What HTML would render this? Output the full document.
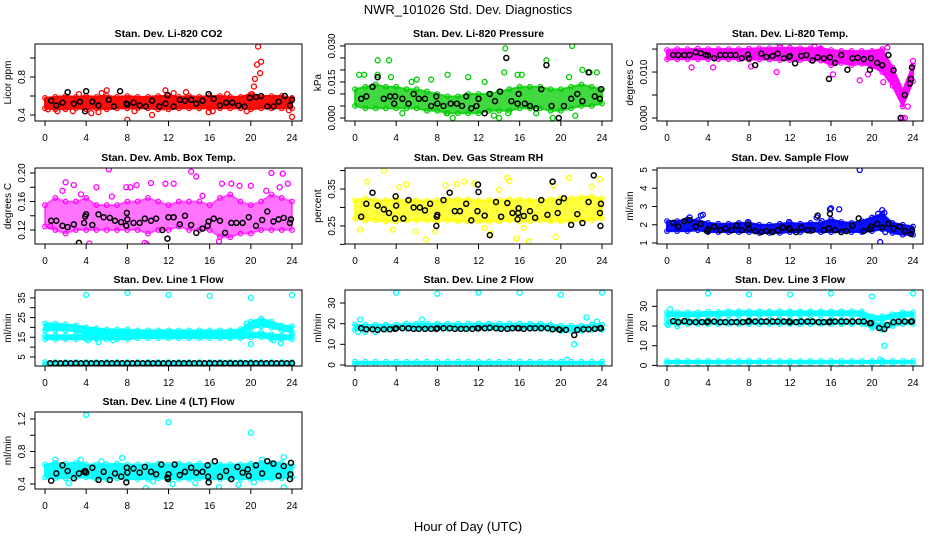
<!DOCTYPE html>
<html><head><meta charset="utf-8">
<style>
html,body{margin:0;padding:0;background:#fff;}
svg{display:block;font-family:"Liberation Sans",Arial,sans-serif;}
</style></head>
<body>
<svg id="chart" width="936" height="540" viewBox="0 0 936 540" xmlns="http://www.w3.org/2000/svg">
<text x="468" y="14" text-anchor="middle" font-size="13">NWR_101026  Std. Dev. Diagnostics</text>
<text x="468" y="531" text-anchor="middle" font-size="13">Hour of Day (UTC)</text>
</svg>
<script>
const hours = [0,1,2,3,4,5,6,7,8,9,10,11,12,13,14,15,16,17,18,19,20,21,22,23,24];
const xTicks = [0,4,8,12,16,20,24];

// Panel 1 CO2
const co2Lo = [0.47,0.46,0.46,0.47,0.46,0.47,0.46,0.47,0.47,0.47,0.47,0.46,0.46,0.47,0.47,0.47,0.47,0.47,0.47,0.47,0.46,0.47,0.47,0.47,0.47];
const co2Hi = [0.58,0.59,0.60,0.59,0.60,0.59,0.60,0.59,0.60,0.59,0.59,0.60,0.60,0.59,0.60,0.59,0.60,0.60,0.59,0.59,0.62,0.60,0.60,0.60,0.58];
const co2OutX = [0.3,1.2,2.7,3.3,4.5,5.2,5.5,6.0,8.0,8.7,10.4,11.7,12.5,13.7,15.9,16.3,17.7,20.1,20.3,20.4,20.6,20.7,20.9,21.0,23.7,24.0,19.6];
const co2OutY = [0.46,0.44,0.44,0.62,0.42,0.43,0.63,0.66,0.35,0.44,0.40,0.66,0.63,0.64,0.43,0.44,0.62,0.62,0.70,0.78,0.93,1.12,0.84,0.96,0.45,0.38,0.44];
const co2BX = [0.6,1.1,1.7,2.2,2.8,3.4,3.9,4.0,4.6,5.2,6.2,6.7,7.3,7.9,8.0,8.6,9.2,9.8,10.4,11.1,11.7,11.9,12.5,13.1,13.6,14.2,14.7,15.3,15.9,16.4,17.0,17.6,18.2,18.8,19.4,19.9,20.5,21.0,21.6,22.2,22.7,23.3,23.8,24.0];
const co2BY = [0.55,0.50,0.53,0.64,0.52,0.54,0.44,0.65,0.54,0.50,0.56,0.49,0.65,0.52,0.51,0.53,0.50,0.49,0.55,0.49,0.52,0.61,0.49,0.56,0.55,0.56,0.52,0.55,0.62,0.57,0.50,0.53,0.53,0.50,0.49,0.58,0.59,0.60,0.49,0.49,0.54,0.60,0.50,0.56];

// Panel 2 Pressure
const prLo = [0.005,0.004,0.004,0.004,0.004,0.004,0.004,0.003,0.003,0.002,0.002,0.002,0.002,0.003,0.003,0.003,0.004,0.004,0.004,0.003,0.003,0.004,0.005,0.005,0.006];
const prHi = [0.012,0.013,0.014,0.013,0.013,0.012,0.012,0.011,0.010,0.009,0.009,0.010,0.010,0.010,0.011,0.012,0.013,0.013,0.013,0.012,0.012,0.013,0.014,0.013,0.012];
const prOutX = [2.2,3.3,14.6,14.5,18.6,21.1,0.4,2.2,9.0,8.9,9.5,14.0,19.2,21.4,4.6,22.1,22.8,23.5,15.8,5.5,11.0,12.6,17.6,6.0,20.8,16.2,3.5,0.9,7.4,13.5,14.9];
const prOutY = [0.024,0.024,0.029,0.019,0.024,0.030,0.018,0.018,0.018,0.002,0.000,0.000,0.000,0.001,0.002,0.020,0.019,0.019,0.018,0.015,0.017,0.015,0.002,0.016,0.017,0.018,0.017,0.018,0.016,0.001,0.002];
const prBX = [0.6,1.1,1.7,2.2,2.8,3.4,3.8,3.9,4.6,5.2,5.7,6.2,6.8,7.4,7.9,8.0,8.6,9.3,9.9,10.4,10.8,11.3,11.8,12.0,12.6,13.1,13.6,14.1,14.7,15.2,15.8,15.9,16.5,17.0,17.6,18.1,18.6,19.1,19.8,20.3,21.0,21.6,22.1,22.7,23.3,23.8,23.9];
const prBY = [0.008,0.009,0.013,0.017,0.008,0.009,0.006,0.009,0.008,0.006,0.010,0.008,0.008,0.005,0.009,0.006,0.005,0.006,0.006,0.005,0.009,0.004,0.005,0.008,0.002,0.010,0.007,0.011,0.025,0.007,0.006,0.010,0.006,0.005,0.004,0.012,0.022,0.005,0.000,0.005,0.008,0.010,0.007,0.019,0.009,0.008,0.012];

// Panel 3 Temp
const tLo = [0.0128,0.0128,0.0128,0.0128,0.0128,0.0128,0.0128,0.0128,0.0127,0.0127,0.0127,0.0126,0.0126,0.0126,0.0126,0.0125,0.0115,0.0120,0.0115,0.0118,0.0112,0.0100,0.0070,0.0025,0.0080];
const tHi = [0.0148,0.0150,0.0150,0.0151,0.0150,0.0150,0.0150,0.0150,0.0151,0.0152,0.0152,0.0153,0.0153,0.0152,0.0152,0.0152,0.0148,0.0146,0.0146,0.0146,0.0146,0.0150,0.0110,0.0060,0.0115];
const tOutX = [2.4,4.5,11.0,10.7,15.0,18.8,21.1,22.2,22.8,23.0,23.2,24.0,23.5,16.2,14.4,8.2,21.5,19.6];
const tOutY = [0.0110,0.0110,0.0158,0.0100,0.0150,0.0082,0.0078,0.0085,0.0000,0.0000,0.0000,0.0124,0.0025,0.0095,0.0155,0.0112,0.0153,0.0095];
const tBX = [0.6,1.1,1.7,2.2,2.8,3.3,3.8,4.0,4.6,5.2,5.7,6.2,6.7,7.3,7.9,8.0,8.6,9.2,9.7,10.3,10.8,11.4,11.9,12.0,12.5,13.1,13.6,14.2,14.7,15.3,15.8,15.9,16.4,17.0,17.6,18.1,18.6,19.2,19.8,19.9,20.5,21.0,21.6,22.1,22.8,23.2,23.7,23.8,23.9];
const tBY = [0.0137,0.0137,0.0137,0.0137,0.0143,0.0141,0.0137,0.0136,0.0130,0.0137,0.0137,0.0137,0.0137,0.0130,0.0138,0.0130,0.0115,0.0140,0.0133,0.0135,0.0140,0.0130,0.0133,0.0135,0.0119,0.0135,0.0137,0.0125,0.0132,0.0130,0.0085,0.0132,0.0120,0.0137,0.0105,0.0130,0.0131,0.0128,0.0105,0.0130,0.0120,0.0115,0.0137,0.0104,0.0000,0.0050,0.0075,0.0085,0.0110];

// Panel 4 Amb box temp
const abLo = [0.125,0.120,0.115,0.120,0.120,0.120,0.120,0.120,0.120,0.120,0.115,0.120,0.120,0.125,0.120,0.120,0.120,0.110,0.110,0.115,0.115,0.120,0.120,0.120,0.120];
const abHi = [0.155,0.165,0.160,0.160,0.165,0.155,0.155,0.155,0.160,0.160,0.165,0.160,0.155,0.160,0.160,0.160,0.155,0.165,0.170,0.160,0.155,0.160,0.170,0.165,0.160];
const abOutX = [2.0,1.7,2.8,6.2,6.5,7.9,8.3,8.9,9.9,11.7,12.5,14.2,14.7,15.3,17.2,18.1,18.9,20.0,21.5,22.0,22.8,23.1,23.6,0.5,4.3,9.7,10.3,16.9,5.0,3.5];
const abOutY = [0.187,0.175,0.183,0.205,0.167,0.180,0.180,0.183,0.100,0.185,0.185,0.202,0.195,0.168,0.185,0.185,0.182,0.182,0.175,0.200,0.180,0.199,0.185,0.125,0.101,0.102,0.186,0.104,0.180,0.170];
const abBX = [0.6,1.1,1.7,2.2,2.8,3.3,3.8,3.9,4.0,4.6,5.2,5.7,6.3,6.8,7.4,7.9,7.95,8.0,8.6,9.2,9.7,10.3,10.8,11.4,11.9,12.0,12.5,13.1,13.6,14.2,14.7,15.3,15.8,15.9,16.4,17.0,17.5,18.1,18.6,19.2,19.8,20.5,21.1,21.6,22.2,22.7,23.2,23.8,23.9];
const abBY = [0.133,0.133,0.126,0.124,0.128,0.102,0.130,0.139,0.142,0.127,0.142,0.138,0.137,0.133,0.131,0.126,0.144,0.135,0.130,0.130,0.136,0.133,0.136,0.120,0.108,0.138,0.138,0.128,0.140,0.127,0.116,0.122,0.126,0.132,0.136,0.133,0.116,0.130,0.130,0.130,0.138,0.126,0.134,0.146,0.132,0.135,0.137,0.130,0.135];

// Panel 5 RH
const rhLo = [0.270,0.265,0.265,0.262,0.262,0.265,0.265,0.265,0.262,0.265,0.262,0.262,0.262,0.262,0.262,0.265,0.262,0.262,0.265,0.262,0.262,0.262,0.265,0.265,0.270];
const rhHi = [0.320,0.325,0.320,0.320,0.322,0.318,0.320,0.318,0.320,0.322,0.322,0.322,0.318,0.320,0.320,0.322,0.322,0.320,0.320,0.322,0.325,0.325,0.328,0.330,0.325];
const rhOutX = [2.8,1.2,4.3,5.0,6.9,7.8,8.8,9.9,10.6,11.6,14.0,14.8,15.0,15.7,16.9,19.3,20.8,23.8,0.5,5.9,16.4,19.5,23.0,3.7,12.6,13.2];
const rhOutY = [0.400,0.370,0.355,0.363,0.213,0.235,0.360,0.364,0.370,0.365,0.348,0.380,0.372,0.216,0.208,0.360,0.380,0.377,0.240,0.235,0.245,0.220,0.357,0.240,0.245,0.230];
const rhBX = [0.6,1.1,1.7,2.2,2.8,3.3,3.9,3.95,4.0,4.7,5.2,5.7,6.3,6.8,7.3,7.9,7.95,8.0,8.6,9.2,9.7,10.2,10.8,11.3,11.9,11.95,12.0,12.6,13.1,13.7,14.2,14.8,15.3,15.8,15.85,15.9,16.4,17.0,17.5,18.1,18.7,19.2,19.7,19.8,20.3,21.0,21.6,22.1,22.7,23.2,23.8,23.85,23.9];
const rhBY = [0.275,0.310,0.340,0.305,0.295,0.285,0.270,0.330,0.305,0.270,0.320,0.300,0.300,0.292,0.310,0.250,0.275,0.280,0.320,0.340,0.290,0.290,0.310,0.265,0.290,0.362,0.342,0.278,0.225,0.315,0.275,0.312,0.285,0.268,0.285,0.298,0.277,0.290,0.272,0.320,0.280,0.370,0.285,0.315,0.325,0.253,0.282,0.258,0.315,0.387,0.285,0.250,0.310];

// Panel 6 Sample flow
const sfLo = [1.65,1.65,1.65,1.70,1.60,1.60,1.60,1.60,1.60,1.55,1.55,1.55,1.60,1.60,1.65,1.60,1.60,1.60,1.60,1.60,1.65,1.75,1.55,1.45,1.45];
const sfHi = [2.20,2.20,2.30,2.25,2.10,2.05,2.05,2.10,2.10,2.00,2.00,2.05,2.10,2.05,2.10,2.10,2.30,2.15,2.10,2.20,2.40,2.60,2.10,2.00,1.90];
const sfOutX = [3.3,3.5,2.2,14.6,15.9,16.0,16.8,18.8,20.6,20.8,21.0,21.2,21.3,7.9,11.9,15.1];
const sfOutY = [2.50,2.55,2.40,2.40,2.85,2.90,2.85,5.00,2.60,1.05,2.80,2.65,1.60,2.15,2.15,2.20];
const sfBX = [0.6,1.1,1.7,2.2,2.8,3.3,3.9,4.0,4.6,5.2,5.7,6.3,6.8,7.3,7.9,8.0,8.6,9.2,9.7,10.3,10.8,11.3,11.9,12.0,12.6,13.1,13.7,14.2,14.7,15.3,15.8,15.9,16.4,17.0,17.5,18.1,18.7,19.2,19.8,19.9,20.5,21.0,21.6,22.1,22.7,23.2,23.8,23.9];
const sfBY = [2.10,1.90,2.20,2.25,1.90,2.05,1.65,1.75,1.90,1.70,1.80,1.70,1.95,1.70,2.00,1.80,1.65,1.60,1.65,1.60,1.70,1.85,1.80,1.75,1.60,1.85,1.70,1.70,2.50,1.70,1.80,2.60,1.70,1.60,1.65,1.95,2.35,1.65,1.75,1.90,2.05,1.85,2.05,1.80,1.90,1.65,1.50,1.70];

// Panel 7 Line 1 flow
const l1ALo = [18.5,18.5,18.5,18,17,16,16,16,16,16,16,16,16,16,16,16,16,16,16,16,19.5,20.5,20,18.5,17.5];
const l1AHi = [22,22,21.5,21,20,19.5,19,19,19,18.5,18.5,18.5,18.5,18.5,18.5,18.5,18.5,18.5,18.5,19,23,24.5,23,21,20.5];
const l1BLo = [14,14,14,14,14,14,14,14,14,14.5,14.5,14.5,14.5,14.5,14.5,14.5,14.5,14.5,14.5,14.5,15,15,14,14,14];
const l1BHi = [16,16,16,16,16.5,17,17,17,17,17,17,17,17,17,17,17,17,17,17,17,17,17.5,16.5,16,16];
const l1CLo = [1.2,1.2,1.2,1.2,1.2,1.2,1.2,1.2,1.2,1.2,1.2,1.2,1.2,1.2,1.2,1.2,1.2,1.2,1.2,1.2,1.2,1.2,1.2,1.2,1.2];
const l1CHi = [2.4,2.4,2.4,2.4,2.4,2.4,2.4,2.4,2.4,2.4,2.4,2.4,2.4,2.4,2.4,2.4,2.4,2.4,2.4,2.4,2.4,2.4,2.4,2.4,2.4];
const l1OutX = [4,8,12,16,20,24,5.2,4.2,6.6,19.6,20.0,22.9,22.2,0.1,0.2];
const l1OutY = [36.5,37.5,36.5,36,35,36.5,12.5,13.5,13.5,22,11.5,12,13.5,19.5,15];
const l1BX = [0.5,1.0,1.5,2.0,2.5,3.0,3.5,4.0,4.5,5.0,5.5,6.0,6.5,7.0,7.5,8.0,8.5,9.0,9.5,10.0,10.5,11.0,11.5,12.0,12.5,13.0,13.5,14.0,14.5,15.0,15.5,16.0,16.5,17.0,17.5,18.0,18.5,19.0,19.5,20.0,20.5,21.0,21.5,22.0,22.5,23.0,23.5,24.0];
const l1BY = [1.8,1.8,1.8,1.8,1.8,1.8,1.8,1.8,1.8,1.8,1.8,1.8,1.8,1.8,1.8,1.8,1.8,1.8,1.8,1.8,1.8,1.8,1.8,1.8,1.8,1.8,1.8,1.8,1.8,1.8,1.8,1.8,1.8,1.8,1.8,1.8,1.8,1.8,1.8,1.8,1.8,1.8,1.8,1.8,1.8,1.8,1.8,1.8];

// Panel 8 Line 2 flow
const l2ALo = [17,17,17,17,17.5,17.5,17.5,17.5,17.5,17.5,17.5,17.5,17.5,17.5,17.5,17.5,17.5,17.5,17.5,17,16.5,16.5,16.5,17,17];
const l2AHi = [19.5,19.5,19.5,19.5,19.5,20,20,20,20,20,20,20,20,20,20,20,20,20,20,19.5,19,19,19,19.5,19.5];
const l2CLo = [0.5,0.5,0.5,0.5,0.5,0.5,0.5,0.5,0.5,0.5,0.5,0.5,0.5,0.5,0.5,0.5,0.5,0.5,0.5,0.5,0.5,0.5,0.5,0.5,0.5];
const l2CHi = [1.6,1.6,1.6,1.6,1.6,1.6,1.6,1.6,1.6,1.6,1.6,1.6,1.6,1.6,1.6,1.6,1.6,1.6,1.6,1.6,1.6,1.6,1.6,1.6,1.6];
const l2OutX = [4,8,12,16,20,24,0.5,0.3,1.0,2.0,6.5,21.3,22.5,23.5,20.6];
const l2OutY = [35,34.5,35,35,34,35,22,16,16,16,22,10,23,21,2.5];
const l2BX = [0.6,1.1,1.7,2.2,2.8,3.4,3.9,4.0,4.6,5.2,5.7,6.2,6.8,7.4,7.9,8.0,8.6,9.2,9.7,10.3,10.8,11.4,11.9,12.0,12.6,13.1,13.7,14.2,14.8,15.3,15.8,15.9,16.4,17.0,17.5,18.1,18.7,19.2,19.8,19.9,20.5,21.3,21.6,22.2,22.7,23.3,23.8,23.9];
const l2BY = [17.8,17.3,17.3,17.0,17.3,17.3,17.5,17.8,17.8,17.8,17.5,17.5,17.5,17.5,17.5,17.8,17.8,17.8,17.5,17.5,17.5,17.5,17.8,17.8,17.8,18.0,17.8,17.5,17.5,17.8,17.8,17.8,17.5,17.8,17.8,17.8,17.8,17.3,17.3,17.0,17.0,14.5,17.0,17.3,17.3,17.5,17.8,17.8];

// Panel 9 Line 3 flow
const l3ALo = [25,25,25,25,25.2,25.2,25.5,25.5,25.5,25.5,25.5,25.5,25.5,25.5,25.5,25.5,25.5,25.5,25.5,25,23,23,24,25,25];
const l3AHi = [27,27,27,27,27.2,27.2,27.5,27.5,27.5,27.5,27.5,27.5,27.5,27.5,27.5,27.5,27.5,27.5,27.5,27.5,25,25,26,27,27];
const l3BLo = [21,21,21,21,21,21,21,21,21,21,21,21,21,21,21,21,21,21,21,21,19,18,20,21,21];
const l3BHi = [23,23,23,23,23,23,23,23,23,23,23,23,23,23,23,23,23,23,23,23,22,21,22,23,23];
const l3CLo = [1.2,1.2,1.2,1.2,1.2,1.2,1.2,1.2,1.2,1.2,1.2,1.2,1.2,1.2,1.2,1.2,1.2,1.2,1.2,1.2,1.2,1.2,1.2,1.2,1.2];
const l3CHi = [2.3,2.3,2.3,2.3,2.3,2.3,2.3,2.3,2.3,2.3,2.3,2.3,2.3,2.3,2.3,2.3,2.3,2.3,2.3,2.3,2.3,2.3,2.3,2.3,2.3];
const l3OutX = [4,8,12,16,20,24,0.3,0.1,1.0,21.2,20.8];
const l3OutY = [36.5,36,36,36.5,35,36.5,28.5,20.5,20,10,3];
const l3BX = [0.6,1.1,1.7,2.2,2.8,3.4,3.9,4.0,4.6,5.2,5.7,6.3,6.8,7.4,7.9,8.0,8.6,9.2,9.7,10.3,10.8,11.4,11.9,12.0,12.6,13.1,13.7,14.2,14.8,15.3,15.8,15.9,16.4,17.0,17.5,18.1,18.7,19.2,19.8,19.9,20.7,21.2,21.5,22.1,22.6,23.2,23.8,23.9];
const l3BY = [22.5,22,22.5,22,22,22,22,22.3,22.3,22,22,22,22,22,22.3,22.5,22.3,22.3,22.3,22.3,22.3,22.3,22.3,22,22,22.3,22.3,22.3,22,22,22,22.3,22.3,22.3,22.3,22.3,22.3,22.3,21.5,21.5,19,18.5,20.5,22,22.3,22.3,22.3,22.3];

// Panel 10 Line 4 flow
const l4Lo = [0.48,0.47,0.47,0.48,0.48,0.46,0.46,0.47,0.46,0.46,0.46,0.47,0.46,0.46,0.46,0.47,0.46,0.46,0.46,0.46,0.46,0.46,0.46,0.47,0.48];
const l4Hi = [0.64,0.66,0.65,0.66,0.64,0.64,0.64,0.65,0.64,0.64,0.64,0.65,0.64,0.65,0.64,0.65,0.64,0.64,0.64,0.64,0.65,0.66,0.66,0.66,0.62];
const l4OutX = [4,12,20,9.8,16.9,23.2,7.5,23.2,1.0,3.5,0.2,2.3,12.4,14.6,18.8,20.3,21.1,5.5,10.5];
const l4OutY = [1.25,1.16,1.03,0.35,0.36,0.36,0.72,0.73,0.70,0.70,0.55,0.41,0.40,0.41,0.39,0.42,0.70,0.68,0.43];
const l4BX = [0.6,1.1,1.7,2.2,2.8,3.3,3.8,3.9,4.0,4.6,5.2,5.7,6.3,6.8,7.4,7.9,7.95,8.0,8.6,9.2,9.7,10.3,10.8,11.3,11.9,11.95,12.0,12.6,13.1,13.6,14.2,14.7,15.3,15.8,15.85,15.9,16.5,17.0,17.6,18.1,18.7,19.2,19.7,19.8,20.5,21.1,21.6,22.2,22.7,23.2,23.8,23.85,23.9];
const l4BY = [0.44,0.53,0.63,0.56,0.47,0.53,0.55,0.56,0.54,0.60,0.45,0.55,0.45,0.53,0.49,0.42,0.60,0.54,0.59,0.54,0.61,0.55,0.52,0.64,0.48,0.46,0.52,0.64,0.51,0.55,0.60,0.54,0.55,0.63,0.49,0.42,0.68,0.49,0.56,0.46,0.61,0.54,0.58,0.50,0.63,0.53,0.68,0.65,0.50,0.62,0.46,0.52,0.66];

const NS = "http://www.w3.org/2000/svg";
const svg = document.getElementById('chart');
function mk(tag, attrs, parent){
  const e = document.createElementNS(NS, tag);
  for (const k in attrs) e.setAttribute(k, attrs[k]);
  (parent||svg).appendChild(e);
  return e;
}

const panels = [
  {id:'co2', title:'Stan. Dev. Li-820 CO2', ylab:'Licor ppm', box:[35,44,302,121], y0:0.337, y1:1.147, ticks:[0.4,0.6,0.8,1.0], labels:[0.4,0.8], fmt:1, color:'#ff0000',
   bands:[[co2Lo,co2Hi]], op:0.95, outX:co2OutX, outY:co2OutY, bx:co2BX, by:co2BY},
  {id:'pressure', title:'Stan. Dev. Li-820 Pressure', ylab:'kPa', box:[345,44,612,121], y0:-0.00125, y1:0.0308, ticks:[0,0.005,0.01,0.015,0.02,0.025,0.03], labels:[0,0.015,0.03], fmt:3, color:'#00cc00',
   bands:[[prLo,prHi]], op:0.75, outX:prOutX, outY:prOutY, bx:prBX, by:prBY},
  {id:'temp', title:'Stan. Dev. Li-820 Temp.', ylab:'degrees C', box:[657,44,923,121], y0:-0.00065, y1:0.0161, ticks:[0,0.005,0.01,0.015], labels:[0,0.01], fmt:3, color:'#ff00ff',
   bands:[[tLo,tHi]], op:0.95, outX:tOutX, outY:tOutY, bx:tBX, by:tBY},
  {id:'amb-box-temp', title:'Stan. Dev. Amb. Box Temp.', ylab:'degrees C', box:[35,168,302,244], y0:0.1004, y1:0.207, ticks:[0.12,0.14,0.16,0.18,0.2], labels:[0.12,0.16,0.2], fmt:2, color:'#ff00ff',
   bands:[[abLo,abHi]], op:0.55, outX:abOutX, outY:abOutY, bx:abBX, by:abBY},
  {id:'gas-rh', title:'Stan. Dev. Gas Stream RH', ylab:'percent', box:[345,168,612,244], y0:0.201, y1:0.407, ticks:[0.2,0.25,0.3,0.35,0.4], labels:[0.25,0.35], fmt:2, color:'#ffff00',
   bands:[[rhLo,rhHi]], op:0.75, outX:rhOutX, outY:rhOutY, bx:rhBX, by:rhBY},
  {id:'sample-flow', title:'Stan. Dev. Sample Flow', ylab:'ml/min', box:[657,168,923,244], y0:0.945, y1:5.11, ticks:[1,2,3,4,5], labels:[1,2,3,4,5], fmt:0, color:'#0000ff',
   bands:[[sfLo,sfHi]], op:0.95, outX:sfOutX, outY:sfOutY, bx:sfBX, by:sfBY},
  {id:'line1-flow', title:'Stan. Dev. Line 1 Flow', ylab:'ml/min', box:[35,290,302,366], y0:0.4, y1:39, ticks:[5,10,15,20,25,30,35], labels:[5,15,25,35], fmt:0, color:'#00ffff',
   bands:[[l1ALo,l1AHi],[l1BLo,l1BHi],[l1CLo,l1CHi]], op:0.95, outX:l1OutX, outY:l1OutY, bx:l1BX, by:l1BY},
  {id:'line2-flow', title:'Stan. Dev. Line 2 Flow', ylab:'ml/min', box:[345,290,612,366], y0:-0.5, y1:36.3, ticks:[0,10,20,30], labels:[0,10,20,30], fmt:0, color:'#00ffff',
   bands:[[l2ALo,l2AHi],[l2CLo,l2CHi]], op:0.95, outX:l2OutX, outY:l2OutY, bx:l2BX, by:l2BY},
  {id:'line3-flow', title:'Stan. Dev. Line 3 Flow', ylab:'ml/min', box:[657,290,923,366], y0:-0.3, y1:38.3, ticks:[0,10,20,30], labels:[0,10,20,30], fmt:0, color:'#00ffff',
   bands:[[l3ALo,l3AHi],[l3BLo,l3BHi],[l3CLo,l3CHi]], op:0.95, outX:l3OutX, outY:l3OutY, bx:l3BX, by:l3BY},
  {id:'line4-flow', title:'Stan. Dev. Line 4 (LT) Flow', ylab:'ml/min', box:[35,412,302,489], y0:0.338, y1:1.286, ticks:[0.4,0.6,0.8,1.0,1.2], labels:[0.4,0.8,1.2], fmt:1, color:'#00ffff',
   bands:[[l4Lo,l4Hi]], op:0.95, outX:l4OutX, outY:l4OutY, bx:l4BX, by:l4BY}
];

panels.forEach(p => {
  const [L,T,R,B] = p.box;
  const g = mk('g', {});
  
  
  const xs = h => (L+10) + h*(R-L-20)/24;
  const ys = v => B - (v - p.y0)*(B-T)/(p.y1 - p.y0);
  const clip = 'clip-' + p.id;
  const cp = mk('clipPath', {id:clip}, g);
  mk('rect', {x:L, y:T, width:R-L, height:B-T}, cp);
  const data = mk('g', {'clip-path':'url(#'+clip+')'}, g);
  
  
  p.bands.forEach(([lo,hi]) => {
    let d = '';
    hours.forEach((h,i)=>{ d += (i?'L':'M') + xs(h).toFixed(1) + ',' + ys(hi[i]).toFixed(1); });
    for (let i=hours.length-1;i>=0;i--) d += 'L' + xs(hours[i]).toFixed(1) + ',' + ys(lo[i]).toFixed(1);
    const band = mk('path', {d:d+'Z', fill:p.color, 'fill-opacity':p.op, stroke:p.color, 'stroke-width':2, 'stroke-linejoin':'round', 'stroke-opacity':p.op}, data);
    
    
    hours.forEach((h,i)=>{
      [lo[i],hi[i]].forEach(v=>{
        const c = mk('circle', {cx:xs(h), cy:ys(v), r:2.3, fill:'none', stroke:p.color, 'stroke-width':1.2}, data);
        
        
      });
    });
  });
  p.outX.forEach((h,i)=>{
    const c = mk('circle', {cx:xs(h), cy:ys(p.outY[i]), r:2.5, fill:'none', stroke:p.color, 'stroke-width':1.3}, data);
    
    
  });
  p.bx.forEach((h,i)=>{
    const c = mk('circle', {cx:xs(h), cy:ys(p.by[i]), r:2.5, fill:'none', stroke:'#000', 'stroke-width':1.5}, data);
    
    
  });
  const box = mk('rect', {x:L, y:T, width:R-L, height:B-T, fill:'none', stroke:'#000', 'stroke-width':1}, g);
  
  
  const t = mk('text', {x:(L+R)/2, y:T-7, 'text-anchor':'middle', 'font-size':10.5, 'font-weight':'bold'}, g);
  t.textContent = p.title;
  
  
  const xa = mk('g', {}, g);
  
  
  mk('line', {x1:xs(0), x2:xs(24), y1:B, y2:B, stroke:'#000'}, xa);
  xTicks.forEach(h=>{
    mk('line', {x1:xs(h), x2:xs(h), y1:B, y2:B+5, stroke:'#000'}, xa);
    const tl = mk('text', {x:xs(h), y:B+20, 'text-anchor':'middle', 'font-size':10}, xa);
    tl.textContent = h;
    
    
  });
  const ya = mk('g', {}, g);
  
  
  const tk = p.ticks;
  mk('line', {x1:L, x2:L, y1:ys(tk[0]), y2:ys(tk[tk.length-1]), stroke:'#000'}, ya);
  tk.forEach(v=>{ mk('line', {x1:L-5, x2:L, y1:ys(v), y2:ys(v), stroke:'#000'}, ya); });
  p.labels.forEach(v=>{
    const yy = ys(v);
    const tl = mk('text', {x:L-10, y:yy, 'text-anchor':'middle', 'font-size':10, transform:'rotate(-90 '+(L-10)+' '+yy+')'}, ya);
    tl.textContent = v.toFixed(p.fmt);
    
    
  });
  const yl = mk('text', {x:L-24, y:(T+B)/2, 'text-anchor':'middle', 'font-size':10, transform:'rotate(-90 '+(L-24)+' '+((T+B)/2)+')'}, ya);
  yl.textContent = p.ylab;
  
  
});
</script>
</body></html>
